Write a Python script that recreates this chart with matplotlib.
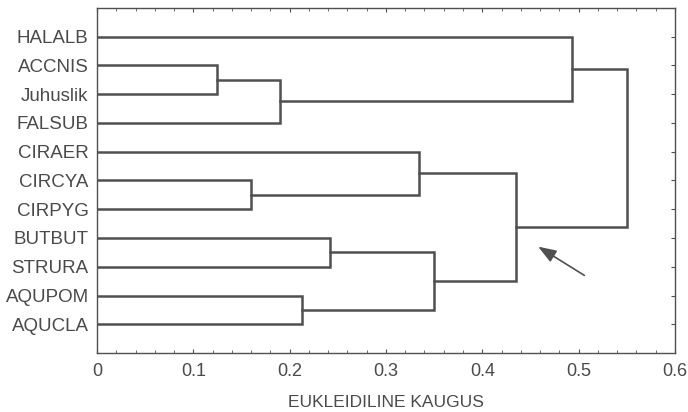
import matplotlib.pyplot as plt

# leaf labels, top to bottom
labels = ['HALALB', 'ACCNIS', 'Juhuslik', 'FALSUB', 'CIRAER', 'CIRCYA',
          'CIRPYG', 'BUTBUT', 'STRURA', 'AQUPOM', 'AQUCLA']

# merges: (cluster a, cluster b, distance); new clusters get ids 11, 12, ...
merge_a = [1, 11, 0, 5, 4, 7, 9, 16, 15, 13]
merge_b = [2, 3, 12, 6, 14, 8, 10, 17, 18, 19]
merge_h = [0.125, 0.19, 0.493, 0.16, 0.334, 0.242, 0.213, 0.35, 0.435, 0.55]

line_col = '#505050'
text_col = '#4a4a4a'
plt.rcParams['font.family'] = ['Liberation Sans', 'DejaVu Sans']

fig = plt.figure(figsize=(6.88, 4.12), dpi=100)
ax = fig.add_axes([0.141, 0.143, 0.84, 0.838])

pos = {i: (0.0, i + 1.0) for i in range(len(labels))}
for k, (a, b, h) in enumerate(zip(merge_a, merge_b, merge_h)):
    xa, ya = pos[a]
    xb, yb = pos[b]
    ax.plot([xa, h, h, xb], [ya, ya, yb, yb], color=line_col, lw=1.8,
            solid_joinstyle='miter')
    pos[len(labels) + k] = (h, (ya + yb) / 2)

# arrow pointing at the main split
ax.annotate('', xy=(0.458, 8.3), xytext=(0.506, 9.3),
            arrowprops=dict(arrowstyle='-|>,head_length=1.1,head_width=0.4',
                            color=line_col, lw=1.2, shrinkA=0, shrinkB=0))

ax.set_xlim(0, 0.6)
ax.set_ylim(12, 0)
ax.set_yticks(range(1, 12))
ax.set_yticklabels(labels)
ax.set_xticks([0, 0.1, 0.2, 0.3, 0.4, 0.5, 0.6])
ax.set_xticklabels(['0', '0.1', '0.2', '0.3', '0.4', '0.5', '0.6'])
ax.set_xticks([i * 0.02 for i in range(31)], minor=True)
ax.tick_params(axis='x', direction='in', top=True, length=3, width=0.8,
               colors=line_col, labelcolor=text_col, labelsize=13, pad=7)
ax.tick_params(axis='x', which='minor', direction='in', top=True, length=2,
               width=0.6, colors=line_col)
ax.tick_params(axis='y', direction='in', left=False, right=True, length=3,
               width=0.8, colors=line_col, labelcolor=text_col, labelsize=13.5,
               pad=6)
for s in ax.spines.values():
    s.set_color(line_col)
    s.set_linewidth(1.0)
ax.set_xlabel('EUKLEIDILINE KAUGUS', color=text_col, fontsize=12.5, labelpad=11)

fig.savefig('out.png', dpi=100)
